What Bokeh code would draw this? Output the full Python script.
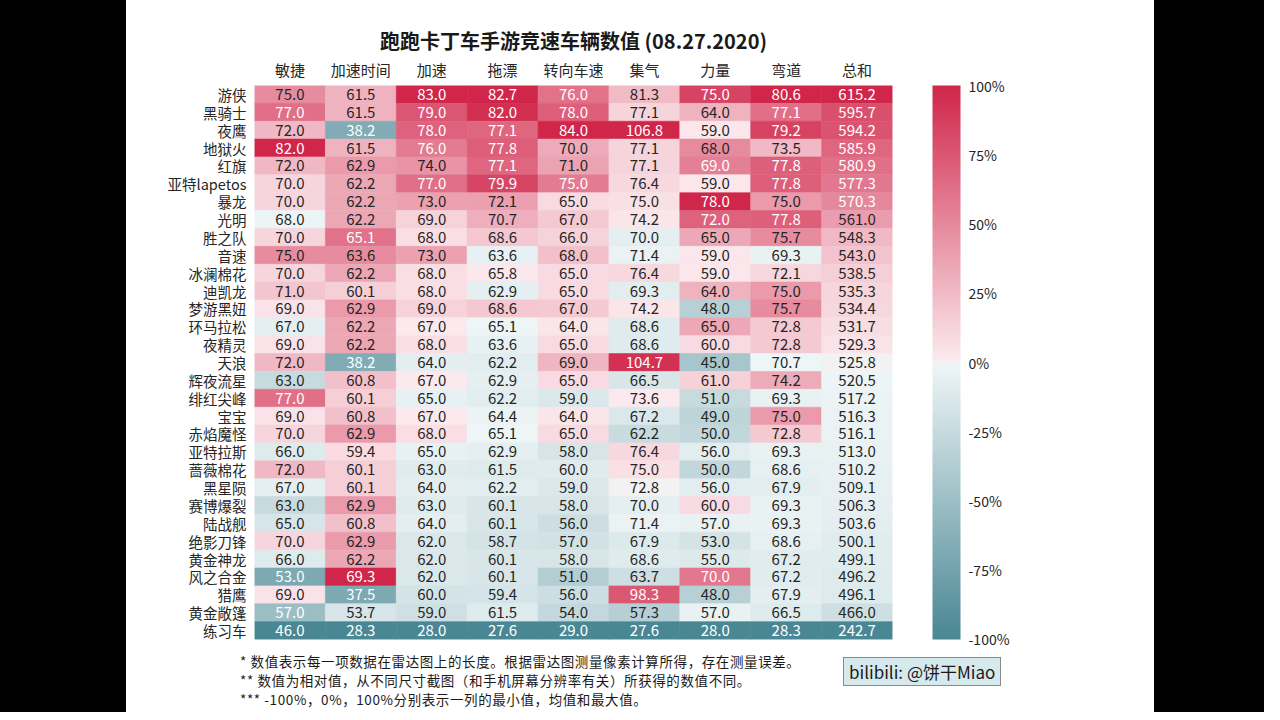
import colorsys
import numpy as np
from bokeh.plotting import figure
from bokeh.models import (ColumnDataSource, LinearColorMapper, ColorBar, FixedTicker,
                          NumeralTickFormatter, FactorRange, Spacer, Div)
from bokeh.transform import transform
from bokeh.layouts import row, column
from bokeh.core.properties import value
from bokeh.embed import file_html
from bokeh.resources import INLINE

# ---------------- data ----------------
cars = ["游侠", "黑骑士", "夜鹰", "地狱火", "红旗", "亚特lapetos", "暴龙", "光明", "胜之队", "音速",
        "冰澜棉花", "迪凯龙", "梦游黑妞", "环马拉松", "夜精灵", "天浪", "辉夜流星", "绯红尖峰", "宝宝",
        "赤焰魔怪", "亚特拉斯", "蔷薇棉花", "黑星陨", "赛博爆裂", "陆战舰", "绝影刀锋", "黄金神龙",
        "风之合金", "猎鹰", "黄金敞篷", "练习车"]
columns = ["敏捷", "加速时间", "加速", "拖漂", "转向车速", "集气", "力量", "弯道", "总和"]

agility = [75.0, 77.0, 72.0, 82.0, 72.0, 70.0, 70.0, 68.0, 70.0, 75.0, 70.0, 71.0, 69.0, 67.0, 69.0, 72.0,
           63.0, 77.0, 69.0, 70.0, 66.0, 72.0, 67.0, 63.0, 65.0, 70.0, 66.0, 53.0, 69.0, 57.0, 46.0]
accel_time = [61.5, 61.5, 38.2, 61.5, 62.9, 62.2, 62.2, 62.2, 65.1, 63.6, 62.2, 60.1, 62.9, 62.2, 62.2, 38.2,
              60.8, 60.1, 60.8, 62.9, 59.4, 60.1, 60.1, 62.9, 60.8, 62.9, 62.2, 69.3, 37.5, 53.7, 28.3]
accel = [83.0, 79.0, 78.0, 76.0, 74.0, 77.0, 73.0, 69.0, 68.0, 73.0, 68.0, 68.0, 69.0, 67.0, 68.0, 64.0,
         67.0, 65.0, 67.0, 68.0, 65.0, 63.0, 64.0, 63.0, 64.0, 62.0, 62.0, 62.0, 60.0, 59.0, 28.0]
drift = [82.7, 82.0, 77.1, 77.8, 77.1, 79.9, 72.1, 70.7, 68.6, 63.6, 65.8, 62.9, 68.6, 65.1, 63.6, 62.2,
         62.9, 62.2, 64.4, 65.1, 62.9, 61.5, 62.2, 60.1, 60.1, 58.7, 60.1, 60.1, 59.4, 61.5, 27.6]
turn_speed = [76.0, 78.0, 84.0, 70.0, 71.0, 75.0, 65.0, 67.0, 66.0, 68.0, 65.0, 65.0, 67.0, 64.0, 65.0, 69.0,
              65.0, 59.0, 64.0, 65.0, 58.0, 60.0, 59.0, 58.0, 56.0, 57.0, 58.0, 51.0, 56.0, 54.0, 29.0]
nitro = [81.3, 77.1, 106.8, 77.1, 77.1, 76.4, 75.0, 74.2, 70.0, 71.4, 76.4, 69.3, 74.2, 68.6, 68.6, 104.7,
         66.5, 73.6, 67.2, 62.2, 76.4, 75.0, 72.8, 70.0, 71.4, 67.9, 68.6, 63.7, 98.3, 57.3, 27.6]
power = [75.0, 64.0, 59.0, 68.0, 69.0, 59.0, 78.0, 72.0, 65.0, 59.0, 59.0, 64.0, 48.0, 65.0, 60.0, 45.0,
         61.0, 51.0, 49.0, 50.0, 56.0, 50.0, 56.0, 60.0, 57.0, 53.0, 55.0, 70.0, 48.0, 57.0, 28.0]
cornering = [80.6, 77.1, 79.2, 73.5, 77.8, 77.8, 75.0, 77.8, 75.7, 69.3, 72.1, 75.0, 75.7, 72.8, 72.8, 70.7,
             74.2, 69.3, 75.0, 72.8, 69.3, 68.6, 67.9, 69.3, 69.3, 68.6, 67.2, 67.2, 67.9, 66.5, 28.3]
total = [615.2, 595.7, 594.2, 585.9, 580.9, 577.3, 570.3, 561.0, 548.3, 543.0, 538.5, 535.3, 534.4, 531.7,
         529.3, 525.8, 520.5, 517.2, 516.3, 516.1, 513.0, 510.2, 509.1, 506.3, 503.6, 500.1, 499.1, 496.2,
         496.1, 466.0, 242.7]
series = [agility, accel_time, accel, drift, turn_speed, nitro, power, cornering, total]

colorbar_ticks = [-1.0, -0.75, -0.5, -0.25, 0.0, 0.25, 0.5, 0.75, 1.0]

notes = ["* 数值表示每一项数据在雷达图上的长度。根据雷达图测量像素计算所得，存在测量误差。",
         "** 数值为相对值，从不同尺寸截图（和手机屏幕分辨率有关）所获得的数值不同。",
         "*** -100%，0%，100%分别表示一列的最小值，均值和最大值。"]
watermark = "bilibili: @饼干Miao"

# ---------------- palette (seaborn-like diverging) ----------------
NEG = (74, 135, 148)
POS = (208, 38, 74)
MID = (242, 242, 242)


def light_of(c):
    h, l, s = colorsys.rgb_to_hls(*[v / 255 for v in c])
    r, g, b = colorsys.hls_to_rgb(h, 0.95, s)
    return (r * 255, g * 255, b * 255)


def blend(a, b, n):
    return [tuple(a[k] + (b[k] - a[k]) * t for k in range(3)) for t in np.linspace(0, 1, n)]


neg_half = blend(NEG, light_of(NEG), 127)
pos_half = blend(light_of(POS), POS, 127)
pal_rgb = neg_half + [MID, MID] + pos_half
palette = ["#%02x%02x%02x" % tuple(int(round(v)) for v in c) for c in pal_rgb]

mapper = LinearColorMapper(palette=palette, low=-1, high=1)

# ---------------- long-form table ----------------
xs, ys, vals, norms, labels, tcolors = [], [], [], [], [], []
for col, vals_col in zip(columns, series):
    arr = np.array(vals_col, dtype=float)
    mean, vmin, vmax = arr.mean(), arr.min(), arr.max()
    for car, v in zip(cars, arr):
        n = (v - mean) / (vmax - mean) if v >= mean else (v - mean) / (mean - vmin)
        xs.append(col)
        ys.append(car)
        vals.append(v)
        norms.append(n)
        labels.append("%.1f" % v)
        tcolors.append("#ffffff" if abs(n) > 0.5 else "#262626")

src = ColumnDataSource(dict(x=xs, y=ys, v=vals, n=norms, label=labels, tc=tcolors))

FONT = "Noto Sans CJK SC"

p = figure(width=1028, height=648, output_backend="svg", toolbar_location=None,
           x_range=FactorRange(factors=columns), y_range=FactorRange(factors=cars[::-1]),
           x_axis_location="above", min_border_left=128, min_border_right=262,
           min_border_top=85, min_border_bottom=9)
p.outline_line_color = None
p.grid.visible = False
p.background_fill_color = "white"
p.border_fill_color = "white"

p.rect(x="x", y="y", width=1, height=1, source=src,
       fill_color=transform("n", mapper), line_color=transform("n", mapper), line_width=0.6)
p.text(x="x", y="y", text="label", source=src, text_align="center", text_baseline="middle",
       text_color="tc", text_font=value(FONT), text_font_size="15px")

for ax in (p.xaxis[0], p.yaxis[0]):
    ax.axis_line_color = None
    ax.major_tick_line_color = None
    ax.major_tick_out = 0
    ax.major_tick_in = 0
    ax.major_label_text_font = FONT
    ax.major_label_text_color = "#262626"
p.xaxis.major_label_text_font_size = "15px"
p.xaxis.major_label_standoff = 6
p.yaxis.major_label_text_font_size = "14.5px"
p.yaxis.major_label_standoff = 8

p.title.text = "跑跑卡丁车手游竞速车辆数值 (08.27.2020)"
p.title.text_font = FONT
p.title.text_font_size = "20px"
p.title.text_font_style = "bold"
p.title.text_color = "#1a1a1a"
p.title.align = "center"
p.title.standoff = 1

cb = ColorBar(color_mapper=mapper, ticker=FixedTicker(ticks=colorbar_ticks),
              formatter=NumeralTickFormatter(format="0%"), width=28, margin=0, padding=0,
              location=(40, 0),
              major_tick_line_color=None, bar_line_color=None, label_standoff=8,
              major_label_text_font=FONT, major_label_text_font_size="14px",
              major_label_text_color="#262626", background_fill_alpha=0, border_line_color=None)
p.add_layout(cb, "right")

# ---------------- footnotes and watermark ----------------
notes_html = ("<div style=\"padding-top:4px; font-family:'Noto Sans CJK SC'; font-size:13.5px; "
              "letter-spacing:0.6px; line-height:19px; color:#1a1a1a; white-space:nowrap;\">"
              + "<br>".join(notes) + "</div>")
wm_html = ("<div style=\"margin-top:9px; display:inline-block; background:#d6e9ec; "
           "border:1.5px solid #8a8a8a; padding:0px 5px; font-family:'Noto Sans CJK SC'; "
           "font-size:17px; line-height:27px; color:#1a1a1a; white-space:nowrap;\">"
           + watermark + "</div>")

white = {"background-color": "white"}
bottom = row(Spacer(width=114, height=64, styles=white),
             Div(text=notes_html, width=603, height=64, margin=0, styles=white),
             Div(text=wm_html, width=311, height=64, margin=0, styles=white),
             styles=white)

black = {"background-color": "black"}
left = Spacer(width=126, height=712, styles=black)
right = Spacer(width=110, height=712, styles=black)
layout = row(left, column(p, bottom, styles=white), right, styles=black)

open("out.html", "w").write(file_html(layout, INLINE))
